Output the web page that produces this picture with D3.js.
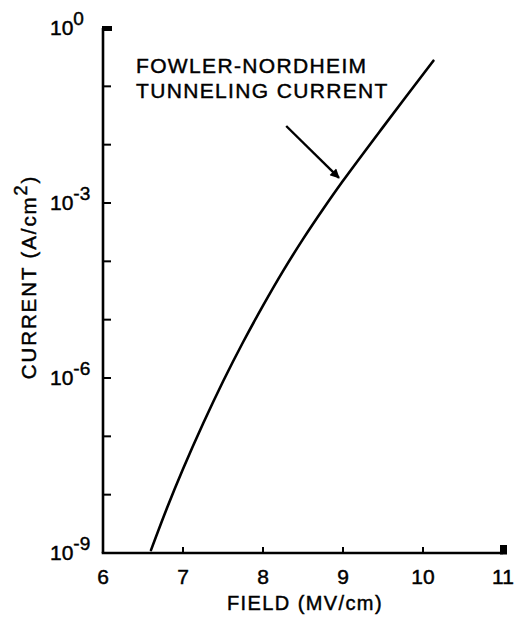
<!DOCTYPE html>
<html>
<head>
<meta charset="utf-8">
<script src="https://cdn.jsdelivr.net/npm/d3@7"></script>
<style>
  html, body { margin: 0; padding: 0; background: #fff; }
  svg { display: block; }
  text { font-family: "Liberation Sans", Arial, Helvetica, sans-serif; fill: #000; stroke: #000; stroke-width: 0.45px; }
</style>
</head>
<body>
<svg id="chart" width="515" height="623"></svg>
<script>
// Fowler-Nordheim tunneling current vs. oxide field
const fieldMVcm = [6.6, 6.8, 7.0, 7.25, 7.5, 7.75, 8.0, 8.25, 8.5, 8.75, 9.0, 9.5, 10.13];
const currentAcm2 = [1.12e-9, 5.9e-9, 2.75e-8, 1.64e-7, 8.7e-7, 4.1e-6, 1.74e-5, 6.8e-5, 2.4e-4, 7.8e-4, 2.4e-3, 2.0e-2, 2.75e-1];

const xTicks = [6, 7, 8, 9, 10, 11];
const yDecades = [0, -1, -2, -3, -4, -5, -6, -7, -8, -9];
const yLabelExponents = [0, -3, -6, -9];

const xTitle = "FIELD (MV/cm)";
const annotationLines = ["FOWLER-NORDHEIM", "TUNNELING CURRENT"];
// arrow from label toward the curve, in data units [field, current]
const arrowFrom = [8.29, Math.pow(10, -1.68)];
const arrowTo = [8.95, Math.pow(10, -2.57)];

const svg = d3.select("#chart");

const x = d3.scaleLinear().domain([6, 11]).range([103, 503]);
const y = d3.scaleLog().domain([1e-9, 1]).range([553, 28]);

// axis lines
const axisStroke = 2.6;
svg.append("line")
  .attr("x1", x(6)).attr("x2", x(6))
  .attr("y1", y(1)).attr("y2", y(1e-9))
  .attr("stroke", "#000").attr("stroke-width", axisStroke);
svg.append("line")
  .attr("x1", x(6) - axisStroke / 2).attr("x2", x(11))
  .attr("y1", y(1e-9)).attr("y2", y(1e-9))
  .attr("stroke", "#000").attr("stroke-width", axisStroke);

// y ticks: one per decade, pointing inward
svg.append("g").selectAll("line")
  .data(yDecades.filter(d => d !== 0 && d !== -9))
  .join("line")
  .attr("x1", x(6)).attr("x2", x(6) + 8)
  .attr("y1", d => y(Math.pow(10, d))).attr("y2", d => y(Math.pow(10, d)))
  .attr("stroke", "#000").attr("stroke-width", 2);

// heavy end tick at 10^0
svg.append("rect")
  .attr("x", x(6) - 1).attr("y", y(1) - 2)
  .attr("width", 10).attr("height", 5)
  .attr("fill", "#000");

// x ticks pointing upward
svg.append("g").selectAll("line")
  .data(xTicks.filter(d => d !== 6 && d !== 11))
  .join("line")
  .attr("x1", d => x(d)).attr("x2", d => x(d))
  .attr("y1", y(1e-9)).attr("y2", y(1e-9) - 6)
  .attr("stroke", "#000").attr("stroke-width", 2);

// heavy end tick at 11
svg.append("rect")
  .attr("x", x(11) - 3).attr("y", y(1e-9) - 8)
  .attr("width", 7).attr("height", 9.5)
  .attr("fill", "#000");

// x tick labels
svg.append("g").selectAll("text")
  .data(xTicks)
  .join("text")
  .attr("x", d => x(d))
  .attr("y", 584)
  .attr("text-anchor", "middle")
  .attr("font-size", 21)
  .text(d => d);

// y tick labels as powers of ten
const yl = svg.append("g").selectAll("text")
  .data(yLabelExponents)
  .join("text")
  .attr("x", 50)
  .attr("y", d => y(Math.pow(10, d)) + 7)
  .attr("font-size", 21);
yl.append("tspan").text("10");
yl.append("tspan")
  .attr("dy", -10)
  .attr("font-size", 19)
  .text(d => d === 0 ? "0" : "-" + Math.abs(d));

// axis titles
svg.append("text")
  .attr("x", 305).attr("y", 610)
  .attr("text-anchor", "middle")
  .attr("font-size", 20)
  .attr("letter-spacing", 1.4)
  .text(xTitle);

const yt = svg.append("text")
  .attr("transform", "translate(36,277) rotate(-90)")
  .attr("text-anchor", "middle")
  .attr("font-size", 20.5)
  .attr("letter-spacing", 1.9);
yt.append("tspan").text("CURRENT (A/cm");
yt.append("tspan").attr("dy", -9).attr("font-size", 18).text("2");
yt.append("tspan").attr("dy", 9).text(")");

// curve
const line = d3.line()
  .x(d => x(d[0]))
  .y(d => y(d[1]))
  .curve(d3.curveCatmullRom);
svg.append("path")
  .datum(fieldMVcm.map((f, i) => [f, currentAcm2[i]]))
  .attr("d", line)
  .attr("fill", "none")
  .attr("stroke", "#000")
  .attr("stroke-width", 2.6)
  .attr("stroke-linecap", "round");

// annotation label
svg.append("g").selectAll("text")
  .data(annotationLines)
  .join("text")
  .attr("x", 136)
  .attr("y", (d, i) => 73 + i * 25)
  .attr("font-size", 21)
  .attr("letter-spacing", 1.35)
  .text(d => d);

// arrow
const defs = svg.append("defs");
defs.append("marker")
  .attr("id", "head")
  .attr("viewBox", "0 0 10 10")
  .attr("refX", 9).attr("refY", 5)
  .attr("markerWidth", 7).attr("markerHeight", 4)
  .attr("markerUnits", "strokeWidth")
  .attr("orient", "auto")
  .append("path")
  .attr("d", "M0,0 L10,5 L0,10 Z")
  .attr("fill", "#000");
svg.append("line")
  .attr("x1", x(arrowFrom[0])).attr("y1", y(arrowFrom[1]))
  .attr("x2", x(arrowTo[0])).attr("y2", y(arrowTo[1]))
  .attr("stroke", "#000")
  .attr("stroke-width", 2.4)
  .attr("marker-end", "url(#head)");
</script>
</body>
</html>
